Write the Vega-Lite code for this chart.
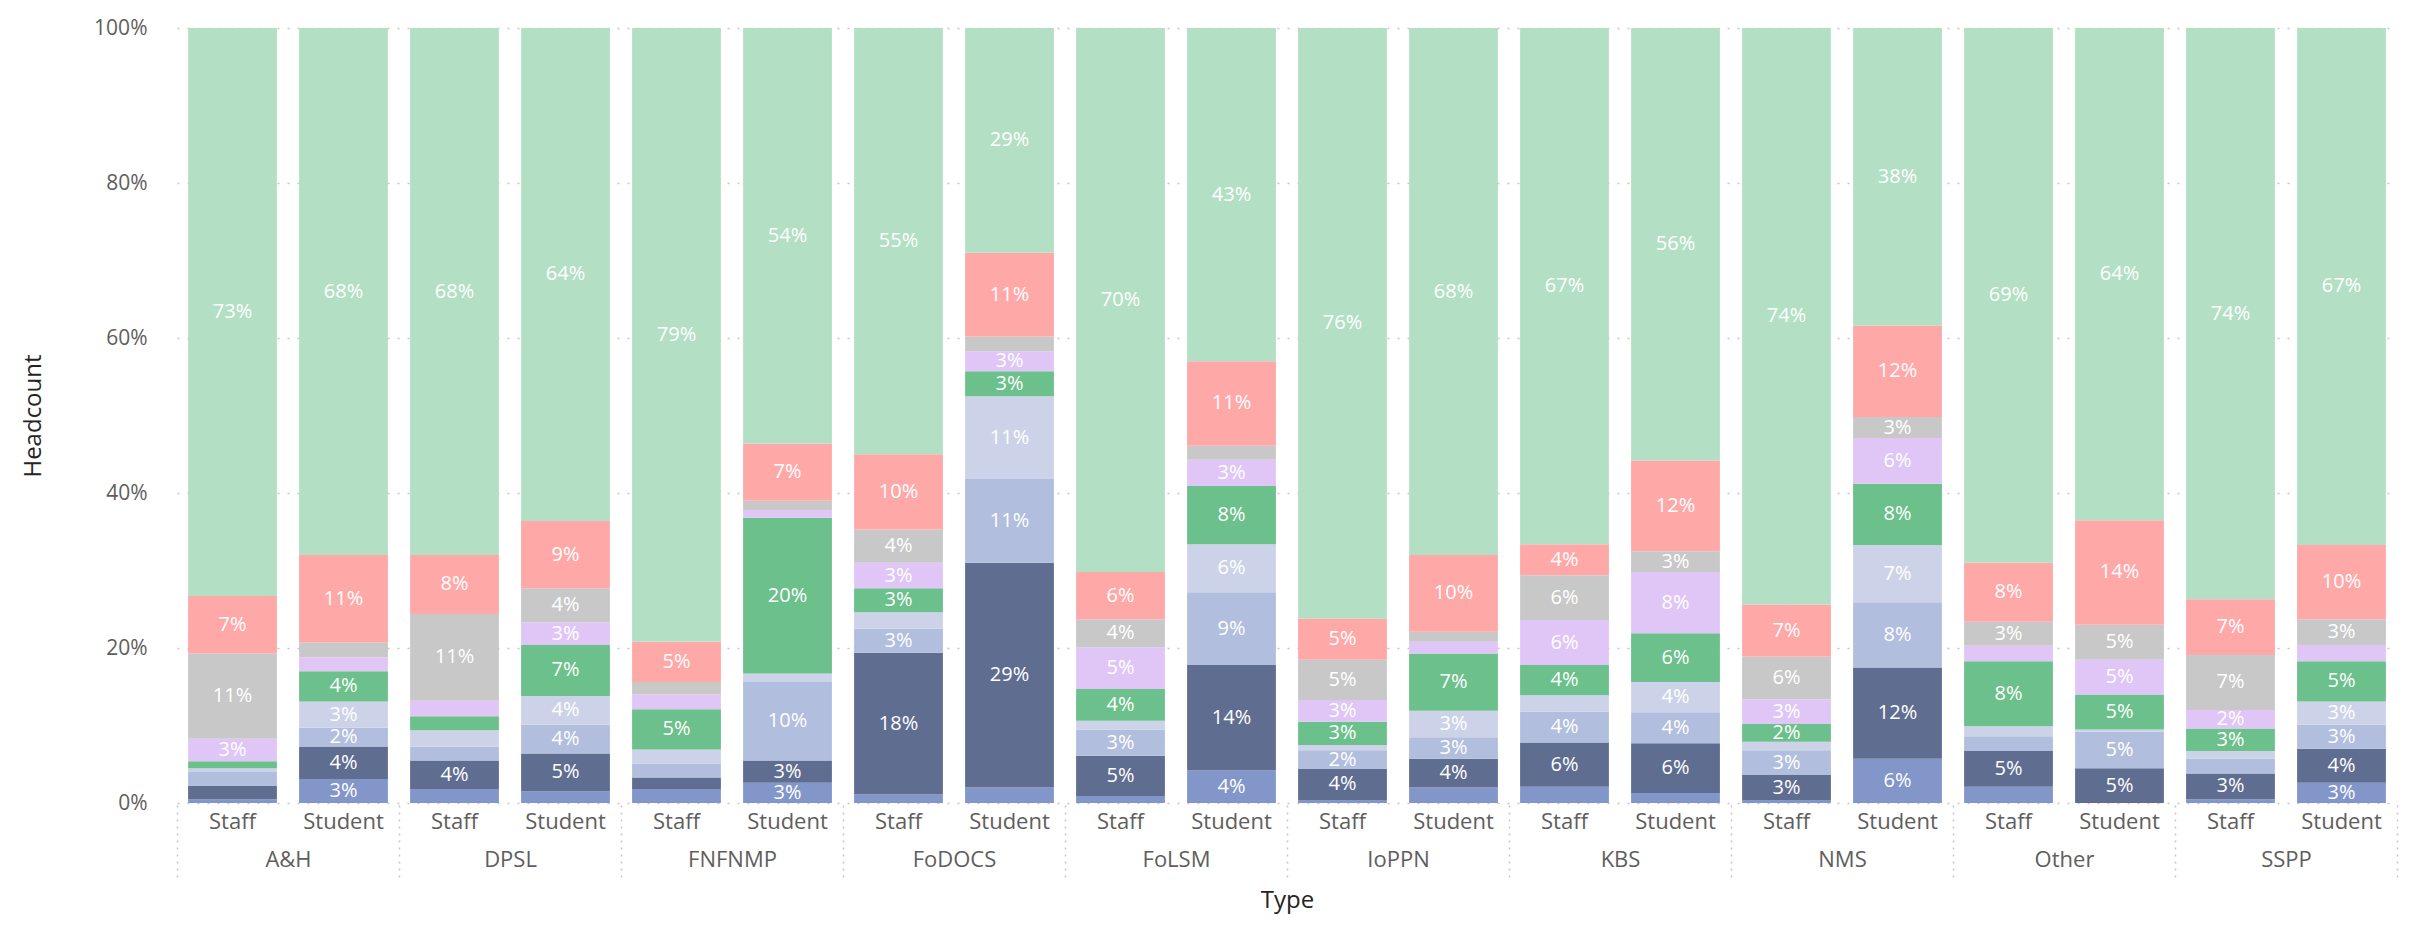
{
 "$schema": "https://vega.github.io/schema/vega-lite/v6.json",
 "width": 2220,
 "height": 775,
 "autosize": {"type": "none"},
 "padding": {"left": 177, "top": 28, "right": 23, "bottom": 128},
 "background": "#ffffff",
 "config": {"view": {"stroke": null}, "font": "Open Sans"},
 "data": {"values": [
  {"Faculty":"A&H","Type":"Staff","Ethnicity":"Arab","Share":0.5},
  {"Faculty":"A&H","Type":"Staff","Ethnicity":"Asian - Chinese","Share":1.7},
  {"Faculty":"A&H","Type":"Staff","Ethnicity":"Asian - Indian","Share":1.8},
  {"Faculty":"A&H","Type":"Staff","Ethnicity":"Asian - Other","Share":0.5},
  {"Faculty":"A&H","Type":"Staff","Ethnicity":"Black","Share":0.9},
  {"Faculty":"A&H","Type":"Staff","Ethnicity":"Mixed","Share":2.9},
  {"Faculty":"A&H","Type":"Staff","Ethnicity":"Other","Share":11.0},
  {"Faculty":"A&H","Type":"Staff","Ethnicity":"Not Known","Share":7.4},
  {"Faculty":"A&H","Type":"Staff","Ethnicity":"White","Share":73.3},
  {"Faculty":"A&H","Type":"Student","Ethnicity":"Arab","Share":3.1},
  {"Faculty":"A&H","Type":"Student","Ethnicity":"Asian - Chinese","Share":4.2},
  {"Faculty":"A&H","Type":"Student","Ethnicity":"Asian - Indian","Share":2.4},
  {"Faculty":"A&H","Type":"Student","Ethnicity":"Asian - Other","Share":3.4},
  {"Faculty":"A&H","Type":"Student","Ethnicity":"Black","Share":3.9},
  {"Faculty":"A&H","Type":"Student","Ethnicity":"Mixed","Share":1.8},
  {"Faculty":"A&H","Type":"Student","Ethnicity":"Other","Share":1.9},
  {"Faculty":"A&H","Type":"Student","Ethnicity":"Not Known","Share":11.3},
  {"Faculty":"A&H","Type":"Student","Ethnicity":"White","Share":68.0},
  {"Faculty":"DPSL","Type":"Staff","Ethnicity":"Arab","Share":1.8},
  {"Faculty":"DPSL","Type":"Staff","Ethnicity":"Asian - Chinese","Share":3.7},
  {"Faculty":"DPSL","Type":"Staff","Ethnicity":"Asian - Indian","Share":1.8},
  {"Faculty":"DPSL","Type":"Staff","Ethnicity":"Asian - Other","Share":2.1},
  {"Faculty":"DPSL","Type":"Staff","Ethnicity":"Black","Share":1.8},
  {"Faculty":"DPSL","Type":"Staff","Ethnicity":"Mixed","Share":2.0},
  {"Faculty":"DPSL","Type":"Staff","Ethnicity":"Other","Share":11.2},
  {"Faculty":"DPSL","Type":"Staff","Ethnicity":"Not Known","Share":7.6},
  {"Faculty":"DPSL","Type":"Staff","Ethnicity":"White","Share":68.0},
  {"Faculty":"DPSL","Type":"Student","Ethnicity":"Arab","Share":1.5},
  {"Faculty":"DPSL","Type":"Student","Ethnicity":"Asian - Chinese","Share":4.9},
  {"Faculty":"DPSL","Type":"Student","Ethnicity":"Asian - Indian","Share":3.7},
  {"Faculty":"DPSL","Type":"Student","Ethnicity":"Asian - Other","Share":3.7},
  {"Faculty":"DPSL","Type":"Student","Ethnicity":"Black","Share":6.6},
  {"Faculty":"DPSL","Type":"Student","Ethnicity":"Mixed","Share":2.9},
  {"Faculty":"DPSL","Type":"Student","Ethnicity":"Other","Share":4.4},
  {"Faculty":"DPSL","Type":"Student","Ethnicity":"Not Known","Share":8.7},
  {"Faculty":"DPSL","Type":"Student","Ethnicity":"White","Share":63.6},
  {"Faculty":"FNFNMP","Type":"Staff","Ethnicity":"Arab","Share":1.8},
  {"Faculty":"FNFNMP","Type":"Staff","Ethnicity":"Asian - Chinese","Share":1.5},
  {"Faculty":"FNFNMP","Type":"Staff","Ethnicity":"Asian - Indian","Share":1.8},
  {"Faculty":"FNFNMP","Type":"Staff","Ethnicity":"Asian - Other","Share":1.8},
  {"Faculty":"FNFNMP","Type":"Staff","Ethnicity":"Black","Share":5.2},
  {"Faculty":"FNFNMP","Type":"Staff","Ethnicity":"Mixed","Share":1.9},
  {"Faculty":"FNFNMP","Type":"Staff","Ethnicity":"Other","Share":1.6},
  {"Faculty":"FNFNMP","Type":"Staff","Ethnicity":"Not Known","Share":5.2},
  {"Faculty":"FNFNMP","Type":"Staff","Ethnicity":"White","Share":79.2},
  {"Faculty":"FNFNMP","Type":"Student","Ethnicity":"Arab","Share":2.6},
  {"Faculty":"FNFNMP","Type":"Student","Ethnicity":"Asian - Chinese","Share":2.9},
  {"Faculty":"FNFNMP","Type":"Student","Ethnicity":"Asian - Indian","Share":10.1},
  {"Faculty":"FNFNMP","Type":"Student","Ethnicity":"Asian - Other","Share":1.1},
  {"Faculty":"FNFNMP","Type":"Student","Ethnicity":"Black","Share":20.1},
  {"Faculty":"FNFNMP","Type":"Student","Ethnicity":"Mixed","Share":1.0},
  {"Faculty":"FNFNMP","Type":"Student","Ethnicity":"Other","Share":1.2},
  {"Faculty":"FNFNMP","Type":"Student","Ethnicity":"Not Known","Share":7.4},
  {"Faculty":"FNFNMP","Type":"Student","Ethnicity":"White","Share":53.6},
  {"Faculty":"FoDOCS","Type":"Staff","Ethnicity":"Arab","Share":1.1},
  {"Faculty":"FoDOCS","Type":"Staff","Ethnicity":"Asian - Chinese","Share":18.3},
  {"Faculty":"FoDOCS","Type":"Staff","Ethnicity":"Asian - Indian","Share":3.1},
  {"Faculty":"FoDOCS","Type":"Staff","Ethnicity":"Asian - Other","Share":2.1},
  {"Faculty":"FoDOCS","Type":"Staff","Ethnicity":"Black","Share":3.1},
  {"Faculty":"FoDOCS","Type":"Staff","Ethnicity":"Mixed","Share":3.3},
  {"Faculty":"FoDOCS","Type":"Staff","Ethnicity":"Other","Share":4.3},
  {"Faculty":"FoDOCS","Type":"Staff","Ethnicity":"Not Known","Share":9.7},
  {"Faculty":"FoDOCS","Type":"Staff","Ethnicity":"White","Share":55.0},
  {"Faculty":"FoDOCS","Type":"Student","Ethnicity":"Arab","Share":2.0},
  {"Faculty":"FoDOCS","Type":"Student","Ethnicity":"Asian - Chinese","Share":29.0},
  {"Faculty":"FoDOCS","Type":"Student","Ethnicity":"Asian - Indian","Share":10.8},
  {"Faculty":"FoDOCS","Type":"Student","Ethnicity":"Asian - Other","Share":10.7},
  {"Faculty":"FoDOCS","Type":"Student","Ethnicity":"Black","Share":3.2},
  {"Faculty":"FoDOCS","Type":"Student","Ethnicity":"Mixed","Share":2.6},
  {"Faculty":"FoDOCS","Type":"Student","Ethnicity":"Other","Share":1.9},
  {"Faculty":"FoDOCS","Type":"Student","Ethnicity":"Not Known","Share":10.8},
  {"Faculty":"FoDOCS","Type":"Student","Ethnicity":"White","Share":29.0},
  {"Faculty":"FoLSM","Type":"Staff","Ethnicity":"Arab","Share":0.9},
  {"Faculty":"FoLSM","Type":"Staff","Ethnicity":"Asian - Chinese","Share":5.2},
  {"Faculty":"FoLSM","Type":"Staff","Ethnicity":"Asian - Indian","Share":3.4},
  {"Faculty":"FoLSM","Type":"Staff","Ethnicity":"Asian - Other","Share":1.1},
  {"Faculty":"FoLSM","Type":"Staff","Ethnicity":"Black","Share":4.1},
  {"Faculty":"FoLSM","Type":"Staff","Ethnicity":"Mixed","Share":5.4},
  {"Faculty":"FoLSM","Type":"Staff","Ethnicity":"Other","Share":3.6},
  {"Faculty":"FoLSM","Type":"Staff","Ethnicity":"Not Known","Share":6.1},
  {"Faculty":"FoLSM","Type":"Staff","Ethnicity":"White","Share":70.2},
  {"Faculty":"FoLSM","Type":"Student","Ethnicity":"Arab","Share":4.2},
  {"Faculty":"FoLSM","Type":"Student","Ethnicity":"Asian - Chinese","Share":13.6},
  {"Faculty":"FoLSM","Type":"Student","Ethnicity":"Asian - Indian","Share":9.4},
  {"Faculty":"FoLSM","Type":"Student","Ethnicity":"Asian - Other","Share":6.2},
  {"Faculty":"FoLSM","Type":"Student","Ethnicity":"Black","Share":7.5},
  {"Faculty":"FoLSM","Type":"Student","Ethnicity":"Mixed","Share":3.4},
  {"Faculty":"FoLSM","Type":"Student","Ethnicity":"Other","Share":1.8},
  {"Faculty":"FoLSM","Type":"Student","Ethnicity":"Not Known","Share":10.9},
  {"Faculty":"FoLSM","Type":"Student","Ethnicity":"White","Share":43.0},
  {"Faculty":"IoPPN","Type":"Staff","Ethnicity":"Arab","Share":0.4},
  {"Faculty":"IoPPN","Type":"Staff","Ethnicity":"Asian - Chinese","Share":4.0},
  {"Faculty":"IoPPN","Type":"Staff","Ethnicity":"Asian - Indian","Share":2.4},
  {"Faculty":"IoPPN","Type":"Staff","Ethnicity":"Asian - Other","Share":0.7},
  {"Faculty":"IoPPN","Type":"Staff","Ethnicity":"Black","Share":3.0},
  {"Faculty":"IoPPN","Type":"Staff","Ethnicity":"Mixed","Share":2.8},
  {"Faculty":"IoPPN","Type":"Staff","Ethnicity":"Other","Share":5.2},
  {"Faculty":"IoPPN","Type":"Staff","Ethnicity":"Not Known","Share":5.3},
  {"Faculty":"IoPPN","Type":"Staff","Ethnicity":"White","Share":76.2},
  {"Faculty":"IoPPN","Type":"Student","Ethnicity":"Arab","Share":2.0},
  {"Faculty":"IoPPN","Type":"Student","Ethnicity":"Asian - Chinese","Share":3.7},
  {"Faculty":"IoPPN","Type":"Student","Ethnicity":"Asian - Indian","Share":2.8},
  {"Faculty":"IoPPN","Type":"Student","Ethnicity":"Asian - Other","Share":3.4},
  {"Faculty":"IoPPN","Type":"Student","Ethnicity":"Black","Share":7.4},
  {"Faculty":"IoPPN","Type":"Student","Ethnicity":"Mixed","Share":1.5},
  {"Faculty":"IoPPN","Type":"Student","Ethnicity":"Other","Share":1.3},
  {"Faculty":"IoPPN","Type":"Student","Ethnicity":"Not Known","Share":9.9},
  {"Faculty":"IoPPN","Type":"Student","Ethnicity":"White","Share":68.0},
  {"Faculty":"KBS","Type":"Staff","Ethnicity":"Arab","Share":2.1},
  {"Faculty":"KBS","Type":"Staff","Ethnicity":"Asian - Chinese","Share":5.7},
  {"Faculty":"KBS","Type":"Staff","Ethnicity":"Asian - Indian","Share":4.0},
  {"Faculty":"KBS","Type":"Staff","Ethnicity":"Asian - Other","Share":2.1},
  {"Faculty":"KBS","Type":"Staff","Ethnicity":"Black","Share":3.9},
  {"Faculty":"KBS","Type":"Staff","Ethnicity":"Mixed","Share":5.8},
  {"Faculty":"KBS","Type":"Staff","Ethnicity":"Other","Share":5.8},
  {"Faculty":"KBS","Type":"Staff","Ethnicity":"Not Known","Share":4.0},
  {"Faculty":"KBS","Type":"Staff","Ethnicity":"White","Share":66.6},
  {"Faculty":"KBS","Type":"Student","Ethnicity":"Arab","Share":1.3},
  {"Faculty":"KBS","Type":"Student","Ethnicity":"Asian - Chinese","Share":6.4},
  {"Faculty":"KBS","Type":"Student","Ethnicity":"Asian - Indian","Share":4.0},
  {"Faculty":"KBS","Type":"Student","Ethnicity":"Asian - Other","Share":3.9},
  {"Faculty":"KBS","Type":"Student","Ethnicity":"Black","Share":6.3},
  {"Faculty":"KBS","Type":"Student","Ethnicity":"Mixed","Share":7.9},
  {"Faculty":"KBS","Type":"Student","Ethnicity":"Other","Share":2.7},
  {"Faculty":"KBS","Type":"Student","Ethnicity":"Not Known","Share":11.7},
  {"Faculty":"KBS","Type":"Student","Ethnicity":"White","Share":55.8},
  {"Faculty":"NMS","Type":"Staff","Ethnicity":"Arab","Share":0.4},
  {"Faculty":"NMS","Type":"Staff","Ethnicity":"Asian - Chinese","Share":3.2},
  {"Faculty":"NMS","Type":"Staff","Ethnicity":"Asian - Indian","Share":3.2},
  {"Faculty":"NMS","Type":"Staff","Ethnicity":"Asian - Other","Share":1.1},
  {"Faculty":"NMS","Type":"Staff","Ethnicity":"Black","Share":2.3},
  {"Faculty":"NMS","Type":"Staff","Ethnicity":"Mixed","Share":3.2},
  {"Faculty":"NMS","Type":"Staff","Ethnicity":"Other","Share":5.5},
  {"Faculty":"NMS","Type":"Staff","Ethnicity":"Not Known","Share":6.7},
  {"Faculty":"NMS","Type":"Staff","Ethnicity":"White","Share":74.4},
  {"Faculty":"NMS","Type":"Student","Ethnicity":"Arab","Share":5.7},
  {"Faculty":"NMS","Type":"Student","Ethnicity":"Asian - Chinese","Share":11.8},
  {"Faculty":"NMS","Type":"Student","Ethnicity":"Asian - Indian","Share":8.4},
  {"Faculty":"NMS","Type":"Student","Ethnicity":"Asian - Other","Share":7.4},
  {"Faculty":"NMS","Type":"Student","Ethnicity":"Black","Share":7.9},
  {"Faculty":"NMS","Type":"Student","Ethnicity":"Mixed","Share":5.9},
  {"Faculty":"NMS","Type":"Student","Ethnicity":"Other","Share":2.7},
  {"Faculty":"NMS","Type":"Student","Ethnicity":"Not Known","Share":11.8},
  {"Faculty":"NMS","Type":"Student","Ethnicity":"White","Share":38.4},
  {"Faculty":"Other","Type":"Staff","Ethnicity":"Arab","Share":2.1},
  {"Faculty":"Other","Type":"Staff","Ethnicity":"Asian - Chinese","Share":4.6},
  {"Faculty":"Other","Type":"Staff","Ethnicity":"Asian - Indian","Share":1.9},
  {"Faculty":"Other","Type":"Staff","Ethnicity":"Asian - Other","Share":1.3},
  {"Faculty":"Other","Type":"Staff","Ethnicity":"Black","Share":8.4},
  {"Faculty":"Other","Type":"Staff","Ethnicity":"Mixed","Share":2.0},
  {"Faculty":"Other","Type":"Staff","Ethnicity":"Other","Share":3.1},
  {"Faculty":"Other","Type":"Staff","Ethnicity":"Not Known","Share":7.6},
  {"Faculty":"Other","Type":"Staff","Ethnicity":"White","Share":69.0},
  {"Faculty":"Other","Type":"Student","Ethnicity":"Arab","Share":0.0},
  {"Faculty":"Other","Type":"Student","Ethnicity":"Asian - Chinese","Share":4.5},
  {"Faculty":"Other","Type":"Student","Ethnicity":"Asian - Indian","Share":4.7},
  {"Faculty":"Other","Type":"Student","Ethnicity":"Asian - Other","Share":0.3},
  {"Faculty":"Other","Type":"Student","Ethnicity":"Black","Share":4.5},
  {"Faculty":"Other","Type":"Student","Ethnicity":"Mixed","Share":4.5},
  {"Faculty":"Other","Type":"Student","Ethnicity":"Other","Share":4.5},
  {"Faculty":"Other","Type":"Student","Ethnicity":"Not Known","Share":13.5},
  {"Faculty":"Other","Type":"Student","Ethnicity":"White","Share":63.5},
  {"Faculty":"SSPP","Type":"Staff","Ethnicity":"Arab","Share":0.5},
  {"Faculty":"SSPP","Type":"Staff","Ethnicity":"Asian - Chinese","Share":3.3},
  {"Faculty":"SSPP","Type":"Staff","Ethnicity":"Asian - Indian","Share":1.9},
  {"Faculty":"SSPP","Type":"Staff","Ethnicity":"Asian - Other","Share":1.0},
  {"Faculty":"SSPP","Type":"Staff","Ethnicity":"Black","Share":2.9},
  {"Faculty":"SSPP","Type":"Staff","Ethnicity":"Mixed","Share":2.4},
  {"Faculty":"SSPP","Type":"Staff","Ethnicity":"Other","Share":7.1},
  {"Faculty":"SSPP","Type":"Staff","Ethnicity":"Not Known","Share":7.2},
  {"Faculty":"SSPP","Type":"Staff","Ethnicity":"White","Share":73.7},
  {"Faculty":"SSPP","Type":"Student","Ethnicity":"Arab","Share":2.6},
  {"Faculty":"SSPP","Type":"Student","Ethnicity":"Asian - Chinese","Share":4.4},
  {"Faculty":"SSPP","Type":"Student","Ethnicity":"Asian - Indian","Share":3.1},
  {"Faculty":"SSPP","Type":"Student","Ethnicity":"Asian - Other","Share":3.0},
  {"Faculty":"SSPP","Type":"Student","Ethnicity":"Black","Share":5.2},
  {"Faculty":"SSPP","Type":"Student","Ethnicity":"Mixed","Share":2.1},
  {"Faculty":"SSPP","Type":"Student","Ethnicity":"Other","Share":3.3},
  {"Faculty":"SSPP","Type":"Student","Ethnicity":"Not Known","Share":9.6},
  {"Faculty":"SSPP","Type":"Student","Ethnicity":"White","Share":66.7}
 ]},
 "transform": [
  {"calculate": "datum.Faculty + '|' + datum.Type", "as": "Key"},
  {"calculate": "indexof(['Arab','Asian - Chinese','Asian - Indian','Asian - Other','Black','Mixed','Other','Not Known','White'], datum.Ethnicity)", "as": "ord"},
  {"stack": "Share", "groupby": ["Key"], "sort": [{"field": "ord", "order": "ascending"}], "offset": "normalize", "as": ["y0", "y1"]},
  {"calculate": "(datum.y0 + datum.y1) / 2", "as": "ymid"},
  {"calculate": "round(datum.Share) + '%'", "as": "lbl"}
 ],
 "layer": [
  {
   "mark": {"type": "bar"},
   "encoding": {
    "x": {"field": "Key", "type": "nominal",
      "sort": ["A&H|Staff","A&H|Student","DPSL|Staff","DPSL|Student","FNFNMP|Staff","FNFNMP|Student","FoDOCS|Staff","FoDOCS|Student","FoLSM|Staff","FoLSM|Student","IoPPN|Staff","IoPPN|Student","KBS|Staff","KBS|Student","NMS|Staff","NMS|Student","Other|Staff","Other|Student","SSPP|Staff","SSPP|Student"],
      "scale": {"paddingInner": 0.2, "paddingOuter": 0.1},
      "axis": {"orient": "bottom", "title": null, "labelExpr": "split(datum.value, '|')[1]", "labelAngle": 0, "labelFontSize": 22, "labelColor": "#605e5c", "ticks": false, "domain": false, "grid": false, "labelPadding": 8}},
    "y": {"field": "y0", "type": "quantitative", "scale": {"domain": [0, 1]},
      "axis": {"orient": "left", "values": [0, 0.2, 0.4, 0.6, 0.8, 1], "format": ".0%", "title": "Headcount", "grid": true, "gridDash": [2, 8], "gridColor": "#c8c6c4", "gridWidth": 1.5, "domain": false, "ticks": false, "labelPadding": 30, "labelFontSize": 21, "labelColor": "#605e5c", "titleFontSize": 24, "titleColor": "#252423", "titleFontWeight": "normal", "titlePadding": 48}},
    "y2": {"field": "y1"},
    "color": {"field": "Ethnicity", "type": "nominal",
      "scale": {"domain": ["Arab","Asian - Chinese","Asian - Indian","Asian - Other","Black","Mixed","Other","Not Known","White"],
                "range": ["#8396c9","#5f6d91","#b1bedd","#ccd3e8","#6cc08b","#e0c6f7","#c8c8c8","#ffa8a8","#b3e0c4"]},
      "legend": null}
   }
  },
  {
   "transform": [{"filter": "datum.Share >= 2.2"}],
   "mark": {"type": "text", "color": "#ffffff", "fontSize": 20, "baseline": "middle", "align": "center"},
   "encoding": {
    "x": {"field": "Key", "type": "nominal",
      "sort": ["A&H|Staff","A&H|Student","DPSL|Staff","DPSL|Student","FNFNMP|Staff","FNFNMP|Student","FoDOCS|Staff","FoDOCS|Student","FoLSM|Staff","FoLSM|Student","IoPPN|Staff","IoPPN|Student","KBS|Staff","KBS|Student","NMS|Staff","NMS|Student","Other|Staff","Other|Student","SSPP|Staff","SSPP|Student"],
      "scale": {"paddingInner": 0.2, "paddingOuter": 0.1},
      "axis": null},
    "y": {"field": "ymid", "type": "quantitative", "axis": null},
    "text": {"field": "lbl"}
   }
  },
  {
   "mark": {"type": "rule", "opacity": 0},
   "encoding": {
    "x": {"field": "Faculty", "type": "nominal",
      "sort": ["A&H","DPSL","FNFNMP","FoDOCS","FoLSM","IoPPN","KBS","NMS","Other","SSPP"],
      "scale": {"paddingInner": 0, "paddingOuter": 0},
      "axis": {"orient": "bottom", "offset": 2, "title": "Type", "labelAngle": 0, "labelFontSize": 22, "labelColor": "#605e5c", "domain": false, "grid": false, "ticks": true, "tickBand": "extent", "tickSize": 72, "tickDash": [2, 5], "tickColor": "#c8c6c4", "tickWidth": 1.5, "labelPadding": -28, "titleFontSize": 24, "titleColor": "#252423", "titleFontWeight": "normal", "titleY": 95, "titleBaseline": "middle"}}
   }
  }
 ],
 "resolve": {"scale": {"x": "independent"}, "axis": {"y": "independent"}}
}
